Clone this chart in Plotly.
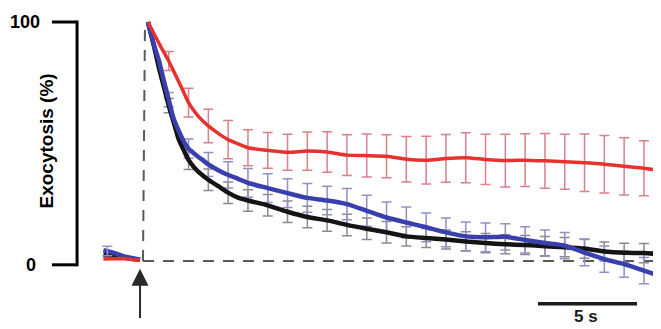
import plotly.graph_objects as go

# ---------------- data ----------------
time_pre = [-2.0, -1.5, -1.0, -0.5, -0.15]
red_pre = [0.8, 0.8, 1.0, 0.5, 0.3]
blue_pre = [4.5, 3.5, 2.0, 1.2, 0.5]
black_pre = [2.5, 2.0, 1.5, 1.0, 0.5]

time_s = [0.25, 0.55, 0.8, 1.05, 1.3, 1.55, 1.8, 2.05, 2.3, 2.55, 2.8, 3.05, 3.3,
          3.8, 4.3, 4.8, 5.3, 6.3, 7.3, 8.3, 9.3, 10.3, 11.3, 12.3, 13.3, 14.3,
          15.3, 16.3, 17.3, 18.3, 19.3, 20.3, 21.3, 22.3, 23.3, 24.3, 25.3, 26.1]

red = [100, 95.2, 91.2, 87.4, 83.7, 79.4, 75.1, 70.7, 66.3, 63.2, 60.5, 58.4, 56.5,
       53.4, 50.8, 49.0, 47.4, 46.3, 45.5, 46.0, 45.6, 44.3, 44.1, 43.8, 42.6, 42.2,
       42.9, 43.2, 42.5, 42.0, 42.2, 41.9, 41.5, 41.1, 40.5, 39.6, 38.8, 37.8]
blue = [100, 90.5, 84, 75.5, 67.5, 59.5, 54.5, 50.2, 47.0, 45.2, 43.5, 42.0, 40.4,
        38.0, 36.0, 34.4, 32.7, 30.5, 28.4, 26.4, 25.3, 23.8, 21.0, 18.2, 16.1, 14.1,
        12.0, 10.3, 9.9, 10.1, 8.8, 7.5, 6.4, 3.5, 0.8, -1.3, -4.0, -6.3]
black = [100, 90, 81, 73, 65, 58, 51, 46.5, 42.3, 39.5, 37.3, 35.6, 34.0,
         31.3, 28.6, 26.5, 25.3, 23.3, 20.6, 18.4, 17.0, 15.1, 13.5, 12.0, 10.3, 9.6,
         9.0, 8.2, 7.5, 7.0, 6.7, 6.2, 5.8, 5.2, 4.0, 3.4, 3.3, 2.9]

# error bars every second (t = 1.3 ... 25.3)
err_times = [1.3, 2.3, 3.3, 4.3, 5.3, 6.3, 7.3, 8.3, 9.3, 10.3, 11.3, 12.3, 13.3,
             14.3, 15.3, 16.3, 17.3, 18.3, 19.3, 20.3, 21.3, 22.3, 23.3, 24.3, 25.3]
red_sem = [4, 6, 7, 8, 7.5, 7.5, 7.5, 8, 8.5, 8.5, 9, 9, 9.5, 10, 10, 10.5, 10.5,
           11, 11, 11.5, 11.5, 12, 12, 12, 11.5]
blue_sem = [3, 4, 5, 5.5, 6, 6, 6, 6, 6, 6.5, 6.5, 6.5, 6.5, 6, 6, 6, 6, 5.5, 5.5,
            5.5, 5.5, 5.5, 5.5, 5.5, 5.5]
black_sem = [3, 4, 4.5, 4.5, 4.5, 4.5, 4.5, 4.5, 4.5, 4.5, 4.5, 4.5, 4, 4, 4, 4, 4,
             4, 4, 4, 4, 4, 4, 4, 4]

y_ticks = [0, 100]
y_tick_labels = ["0", "100"]
y_title = "Exocytosis (%)"
scale_bar_s = 5
scale_label = "5 s"

# ---------------- styling ----------------
RED = "#e5322f"
BLUE = "#3a3fae"
BLACK = "#141414"
RED_ERR = "#d9808a"
BLUE_ERR = "#8e92c4"
BLACK_ERR = "#8a8a8a"
FONT = "Arial"

err_idx = [time_s.index(t) for t in err_times]

fig = go.Figure()


def add_err(series, sem, color):
    fig.add_trace(go.Scatter(
        x=[time_s[i] for i in err_idx], y=[series[i] for i in err_idx],
        mode="markers", marker=dict(size=1, color="rgba(0,0,0,0)"),
        error_y=dict(type="data", array=sem, symmetric=True, color=color,
                     thickness=1.5, width=5),
        hoverinfo="skip", showlegend=False))


add_err(black, black_sem, BLACK_ERR)
add_err(blue, blue_sem, BLUE_ERR)
add_err(red, red_sem, RED_ERR)

for pre, series, color, w in [(black_pre, black, BLACK, 4.5), (blue_pre, blue, BLUE, 4.5),
                              (red_pre, red, RED, 3.5)]:
    fig.add_trace(go.Scatter(x=time_pre, y=pre, mode="lines",
                             line=dict(color=color, width=w), showlegend=False))
    fig.add_trace(go.Scatter(x=time_s, y=series, mode="lines",
                             line=dict(color=color, width=w, shape="spline", smoothing=0.6),
                             showlegend=False))

# pre-stimulus small blue error bar
fig.add_trace(go.Scatter(x=[time_pre[0] + 0.2], y=[blue_pre[0] - 0.3], mode="markers",
                         marker=dict(size=1, color="rgba(0,0,0,0)"),
                         error_y=dict(type="data", array=[2], color=BLUE_ERR, thickness=1.5, width=5),
                         showlegend=False))

# dashed reference lines
DASH = "11px,9px"
fig.add_shape(type="line", x0=0, x1=0.1, y0=0, y1=y_ticks[1],
              line=dict(color="#5a5a5a", width=2, dash=DASH), layer="below")
fig.add_shape(type="line", x0=0, x1=26.6, y0=0, y1=0,
              line=dict(color="#5a5a5a", width=2, dash=DASH), layer="below")

# y-axis bracket (drawn as a scale bracket like the original)
ax_x = -3.33
tick_x0 = -4.6
tick_pos = [y_ticks[0] - 1.6, y_ticks[1]]
fig.add_shape(type="line", x0=ax_x, x1=ax_x, y0=tick_pos[0] - 0.6, y1=tick_pos[1] + 0.6,
              line=dict(color="black", width=3))
for v in tick_pos:
    fig.add_shape(type="line", x0=tick_x0, x1=ax_x, y0=v, y1=v,
                  line=dict(color="black", width=3))
fig.add_annotation(x=-5.1, y=tick_pos[1], text="<b>%s</b>" % y_tick_labels[1], showarrow=False,
                   xanchor="right", yanchor="middle", font=dict(family=FONT, size=18, color="black"))
fig.add_annotation(x=-5.3, y=tick_pos[0], text="<b>%s</b>" % y_tick_labels[0], showarrow=False,
                   xanchor="right", yanchor="middle", font=dict(family=FONT, size=18, color="black"))
fig.add_annotation(x=-4.85, y=50.4, text="<b>%s</b>" % y_title, showarrow=False, textangle=-90,
                   xanchor="center", yanchor="middle", font=dict(family=FONT, size=19, color="black"))

# stimulus arrow
fig.add_annotation(x=-0.15, y=-3.2, ax=-0.15, ay=-24.5, axref="x", ayref="y", xref="x", yref="y",
                   text="", showarrow=True, arrowhead=2, arrowsize=1.7, arrowwidth=2,
                   arrowcolor="#2a2a2a")

# scale bar
sb_x0 = 19.95
fig.add_shape(type="line", x0=sb_x0, x1=sb_x0 + scale_bar_s, y0=-17.9, y1=-17.9,
              line=dict(color="#1a1a1a", width=3.5))
fig.add_annotation(x=sb_x0 + scale_bar_s / 2 - 0.1, y=-27.9, text="<b>%s</b>" % scale_label,
                   showarrow=False, xanchor="center", yanchor="bottom",
                   font=dict(family=FONT, size=17, color="#1a1a1a"))

# the page body adds an 8 px offset; ranges are chosen so marks land where the original has them
fig.update_layout(
    width=661, height=329,
    margin=dict(l=0, r=0, t=0, b=0),
    paper_bgcolor="white", plot_bgcolor="white",
    xaxis=dict(range=[-6.818, 26.566], visible=False, fixedrange=True),
    yaxis=dict(range=[-31.8, 105.86], visible=False, fixedrange=True),
    showlegend=False,
)

fig.write_html("out.html")
